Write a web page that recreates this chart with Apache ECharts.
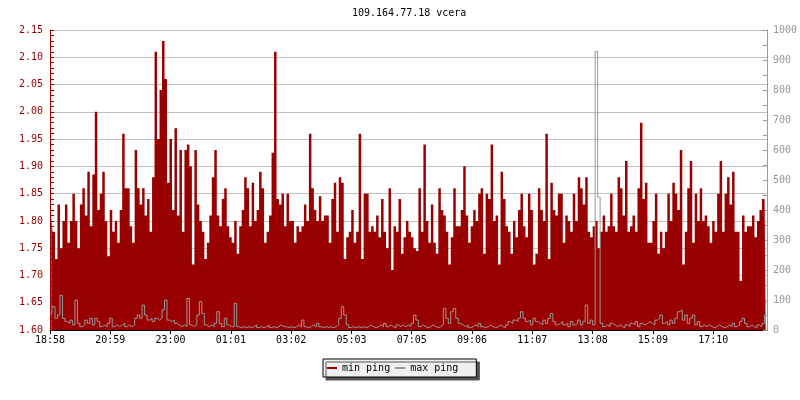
<!DOCTYPE html>
<html>
<head>
<meta charset="utf-8">
<script src="https://cdn.jsdelivr.net/npm/echarts@6/dist/echarts.min.js"></script>
<style>
html,body{margin:0;padding:0;background:#fff;}
#chart{width:800px;height:400px;}
</style>
</head>
<body>
<div id="chart"></div>
<script>
const chartTitle = '109.164.77.18 vcera';
const seriesNames = ['min ping', 'max ping'];
const xTickLabels = ['18:58','20:59','23:00','01:01','03:02','05:03','07:05','09:06','11:07','13:08','15:09','17:10'];
const tickMinutes = 121.1;
const totalMinutes = 1440;
const stepMinutes = 5;

const minPing = [
1.81,1.78,1.73,1.83,1.75,1.80,1.83,1.76,1.80,1.85,
1.80,1.75,1.83,1.86,1.81,1.89,1.79,1.885,2.00,1.82,
1.85,1.89,1.80,1.735,1.82,1.78,1.80,1.76,1.82,1.96,
1.86,1.86,1.79,1.76,1.93,1.86,1.83,1.86,1.81,1.84,
1.78,1.88,2.11,1.95,2.04,2.13,2.06,1.87,1.95,1.82,
1.97,1.81,1.93,1.78,1.93,1.94,1.90,1.72,1.93,1.83,
1.80,1.78,1.73,1.76,1.81,1.88,1.93,1.81,1.79,1.84,
1.86,1.79,1.77,1.76,1.80,1.74,1.79,1.82,1.88,1.86,
1.79,1.87,1.80,1.82,1.89,1.86,1.76,1.78,1.81,1.925,
2.11,1.84,1.83,1.85,1.79,1.85,1.80,1.80,1.76,1.79,
1.78,1.79,1.83,1.80,1.96,1.86,1.82,1.80,1.845,1.80,
1.81,1.81,1.76,1.84,1.87,1.78,1.88,1.87,1.73,1.77,
1.78,1.82,1.76,1.78,1.96,1.73,1.85,1.85,1.78,1.79,
1.78,1.81,1.77,1.84,1.78,1.75,1.86,1.71,1.79,1.78,
1.84,1.74,1.77,1.80,1.78,1.77,1.75,1.745,1.86,1.78,
1.94,1.80,1.76,1.83,1.76,1.74,1.86,1.82,1.81,1.78,
1.72,1.77,1.86,1.79,1.79,1.82,1.90,1.81,1.76,1.79,
1.82,1.80,1.85,1.86,1.74,1.85,1.84,1.94,1.80,1.81,
1.72,1.89,1.84,1.79,1.78,1.74,1.80,1.77,1.82,1.85,
1.79,1.77,1.85,1.82,1.72,1.74,1.86,1.82,1.80,1.96,
1.73,1.87,1.82,1.81,1.85,1.85,1.76,1.81,1.80,1.78,
1.85,1.80,1.88,1.86,1.83,1.88,1.78,1.77,1.79,1.80,
1.75,1.78,1.81,1.78,1.79,1.85,1.79,1.78,1.88,1.86,
1.81,1.91,1.78,1.79,1.81,1.78,1.86,1.98,1.84,1.87,
1.76,1.76,1.80,1.85,1.74,1.78,1.75,1.78,1.85,1.80,
1.87,1.85,1.82,1.93,1.72,1.78,1.86,1.91,1.76,1.85,
1.80,1.86,1.80,1.81,1.79,1.76,1.80,1.78,1.85,1.91,
1.78,1.85,1.88,1.83,1.89,1.78,1.78,1.69,1.81,1.78,
1.79,1.79,1.81,1.77,1.80,1.82,1.84,1.87
];

const maxPing = [
50,78,39,50,115,39,28,22,33,17,
100,22,11,17,33,22,39,17,39,28,
11,17,11,22,39,11,17,11,17,22,
11,17,11,17,39,50,39,83,50,33,
39,28,39,33,39,67,100,33,28,33,
22,17,11,17,11,105,17,11,17,50,
95,55,17,11,17,11,22,61,22,11,
39,17,11,11,89,11,8,11,8,11,
8,11,17,8,11,8,11,17,8,11,
8,11,17,11,11,8,11,8,11,17,
11,33,11,8,11,17,11,22,11,8,
11,8,11,8,11,17,39,78,50,17,
8,11,8,11,8,11,8,11,17,11,
8,11,17,11,22,11,17,11,8,17,
11,17,11,17,11,22,50,33,11,17,
11,8,11,17,11,8,11,17,72,39,
22,61,72,39,22,17,11,17,8,11,
17,11,22,11,8,11,17,11,8,11,
17,11,8,17,28,22,33,28,39,61,
39,28,33,17,39,28,22,17,33,22,
39,55,28,17,22,28,17,22,11,28,
17,22,33,17,28,83,22,33,17,928,
443,22,11,17,11,22,17,11,17,11,
8,17,11,22,17,28,11,22,17,22,
28,22,17,33,39,50,22,28,17,33,
22,39,61,67,33,50,22,39,50,17,
28,11,17,11,17,11,8,11,17,11,
8,11,17,11,22,11,17,28,39,22,
11,17,11,8,17,11,22,50
];

const toPairs = arr => arr.map((v, i) => [i * stepMinutes + stepMinutes / 2, v]);

const mono = 'DejaVu Sans Mono';
const red = '#990000';
const gray = '#999999';

const chart = echarts.init(document.getElementById('chart'), null, {renderer: 'canvas'});
chart.setOption({
  animation: false,
  backgroundColor: '#ffffff',
  title: {
    text: chartTitle,
    left: 352,
    top: 8,
    padding: 0,
    textStyle: {fontFamily: mono, fontSize: 10, fontWeight: 'normal', color: '#000'}
  },
  legend: {
    data: seriesNames,
    left: 323,
    top: 359,
    padding: [4, 18, 4, 4],
    itemGap: 5,
    itemWidth: 10,
    itemHeight: 2,
    icon: 'rect',
    backgroundColor: '#f0f0f0',
    borderColor: '#000',
    borderWidth: 1,
    borderRadius: 0,
    shadowColor: '#555',
    shadowBlur: 0,
    shadowOffsetX: 3,
    shadowOffsetY: 3,
    textStyle: {fontFamily: mono, fontSize: 10, color: '#000'}
  },
  grid: {left: 50, right: 30, top: 30, bottom: 70, containLabel: false},
  xAxis: {
    type: 'value',
    min: 0,
    max: totalMinutes,
    interval: tickMinutes,
    axisLine: {show: true, lineStyle: {color: '#000', width: 1}},
    axisTick: {show: true, inside: false, length: 4, lineStyle: {color: '#000'}},
    axisLabel: {
      show: true,
      margin: 5,
      showMaxLabel: false,
      fontFamily: mono, fontSize: 10, color: '#000',
      formatter: v => {
        const k = Math.round(v / tickMinutes);
        return xTickLabels[k] !== undefined ? xTickLabels[k] : '';
      }
    },
    splitLine: {show: false}
  },
  yAxis: [
    {
      type: 'value',
      min: 1.6,
      max: 2.15,
      interval: 0.05,
      position: 'left',
      axisLine: {show: true, lineStyle: {color: red}},
      axisTick: {show: true, inside: true, length: 4, lineStyle: {color: red}},
      minorTick: {show: true, splitNumber: 5, length: 4, lineStyle: {color: red}},
      axisLabel: {fontFamily: mono, fontSize: 10, color: red, margin: 7,
        formatter: v => v.toFixed(2)},
      splitLine: {show: true, lineStyle: {color: '#c0c0c0', width: 1}}
    },
    {
      type: 'value',
      min: 0,
      max: 1000,
      interval: 100,
      position: 'right',
      axisLine: {show: true, lineStyle: {color: gray}},
      axisTick: {show: true, inside: true, length: 4, lineStyle: {color: gray}},
      minorTick: {show: true, splitNumber: 2, length: 4, lineStyle: {color: gray}},
      axisLabel: {fontFamily: mono, fontSize: 10, color: gray, margin: 6,
        formatter: v => String(Math.round(v))},
      splitLine: {show: false}
    }
  ],
  series: [
    {
      name: seriesNames[0],
      type: 'line',
      yAxisIndex: 0,
      step: 'middle',
      symbol: 'none',
      color: red,
      itemStyle: {color: red},
      lineStyle: {width: 0, color: red},
      areaStyle: {color: red, opacity: 1, origin: 'start'},
      data: toPairs(minPing),
      z: 2
    },
    {
      name: seriesNames[1],
      type: 'line',
      yAxisIndex: 1,
      step: 'middle',
      symbol: 'none',
      color: gray,
      itemStyle: {color: gray},
      lineStyle: {width: 1, color: gray},
      data: toPairs(maxPing),
      z: 3
    }
  ]
});
</script>
</body>
</html>
